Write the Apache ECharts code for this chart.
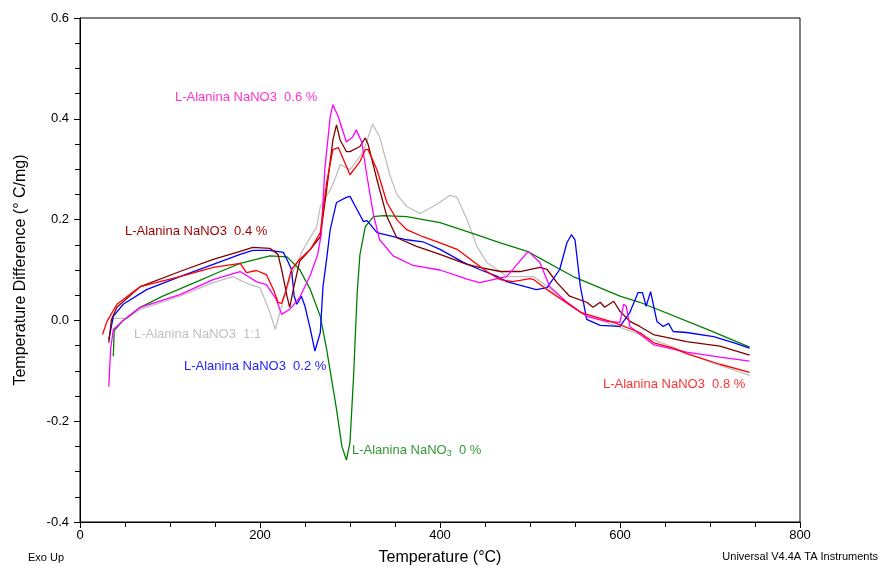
<!DOCTYPE html>
<html>
<head>
<meta charset="utf-8">
<script src="https://cdn.jsdelivr.net/npm/echarts@6/dist/echarts.min.js"></script>
<style>
html,body{margin:0;padding:0;background:#fff;}
#c{width:881px;height:571px;}
</style>
</head>
<body>
<div id="c"></div>
<script>
// ---- Data (Temperature °C, Temperature Difference °C/mg) ----
var xTicks = [0, 200, 400, 600, 800];
var yTicks = [-0.4, -0.2, 0.0, 0.2, 0.4, 0.6];

var green0 = [[37,-0.071],[38,-0.02],[48,0.0],[67,0.026],[92,0.048],[130,0.077],[156,0.097],[178,0.113],[211,0.128],[230,0.126],[244,0.101],[256,0.061],[267,0.008],[274,-0.057],[285,-0.176],[291,-0.25],[296,-0.277],[300,-0.242],[304,-0.11],[308,0.055],[311,0.13],[317,0.186],[326,0.206],[337,0.208],[363,0.206],[400,0.194],[437,0.172],[467,0.154],[497,0.137],[548,0.087],[600,0.048],[622,0.036],[697,-0.018],[744,-0.053]];

var blue02 = [[32,-0.038],[37,0.008],[48,0.032],[74,0.061],[111,0.087],[148,0.111],[178,0.131],[192,0.139],[211,0.139],[226,0.135],[231,0.117],[235,0.101],[238,0.048],[241,0.032],[246,0.048],[250,0.028],[256,-0.018],[261,-0.061],[267,-0.024],[270,0.067],[274,0.121],[278,0.18],[285,0.234],[296,0.244],[300,0.246],[306,0.226],[315,0.196],[319,0.198],[330,0.174],[363,0.16],[381,0.156],[400,0.141],[426,0.115],[444,0.101],[463,0.088],[474,0.077],[507,0.061],[519,0.065],[533,0.101],[541,0.154],[546,0.170],[550,0.160],[556,0.067],[563,0.002],[578,-0.010],[600,-0.012],[611,0.016],[620,0.055],[625,0.055],[629,0.028],[634,0.057],[641,-0.002],[648,-0.012],[654,-0.006],[659,-0.022],[674,-0.024],[704,-0.032],[726,-0.044],[744,-0.055]];

var darkred04 = [[32,-0.044],[35,0.002],[41,0.026],[67,0.067],[111,0.097],[148,0.121],[178,0.137],[192,0.145],[211,0.143],[220,0.131],[224,0.101],[230,0.048],[233,0.026],[237,0.061],[244,0.117],[256,0.141],[267,0.166],[274,0.259],[281,0.358],[285,0.388],[289,0.358],[296,0.335],[300,0.335],[311,0.345],[317,0.362],[320,0.35],[330,0.279],[341,0.206],[352,0.164],[374,0.147],[400,0.131],[430,0.111],[444,0.105],[467,0.097],[489,0.097],[511,0.105],[519,0.101],[530,0.075],[544,0.048],[563,0.036],[570,0.026],[578,0.036],[583,0.026],[593,0.038],[600,0.018],[611,-0.002],[622,-0.012],[637,-0.028],[674,-0.042],[711,-0.051],[744,-0.069]];

var magenta06 = [[32,-0.131],[34,-0.057],[37,-0.018],[48,0.0],[67,0.026],[111,0.051],[148,0.081],[178,0.097],[185,0.089],[196,0.077],[207,0.071],[218,0.042],[224,0.012],[233,0.022],[244,0.045],[256,0.09],[264,0.13],[268,0.17],[272,0.3],[278,0.404],[281,0.428],[287,0.404],[296,0.354],[303,0.364],[307,0.378],[313,0.354],[319,0.285],[326,0.21],[333,0.16],[348,0.128],[370,0.109],[400,0.1],[430,0.082],[444,0.075],[474,0.087],[498,0.137],[511,0.115],[522,0.067],[541,0.036],[563,0.008],[585,-0.002],[600,-0.004],[604,0.032],[607,0.028],[611,-0.012],[637,-0.048],[674,-0.063],[711,-0.073],[744,-0.081]];

var red08 = [[25,-0.028],[30,-0.002],[41,0.032],[67,0.067],[111,0.087],[148,0.105],[178,0.113],[185,0.095],[196,0.099],[207,0.091],[215,0.061],[220,0.036],[224,0.034],[228,0.055],[235,0.101],[244,0.121],[256,0.141],[267,0.174],[274,0.273],[281,0.339],[287,0.343],[300,0.289],[311,0.315],[317,0.339],[320,0.339],[330,0.299],[341,0.234],[352,0.2],[363,0.18],[381,0.166],[400,0.154],[419,0.141],[437,0.117],[452,0.097],[467,0.081],[481,0.077],[500,0.083],[504,0.081],[519,0.061],[556,0.016],[593,-0.004],[622,-0.024],[637,-0.044],[659,-0.055],[674,-0.066],[711,-0.087],[744,-0.103]];

var gray11 = [[35,-0.008],[37,0.004],[52,0.004],[67,0.022],[111,0.048],[148,0.075],[170,0.087],[181,0.077],[189,0.071],[200,0.065],[211,0.016],[217,-0.018],[222,0.016],[233,0.081],[248,0.141],[263,0.186],[267,0.226],[278,0.259],[283,0.279],[289,0.309],[300,0.299],[315,0.335],[325,0.39],[333,0.364],[344,0.29],[352,0.25],[363,0.226],[378,0.212],[396,0.23],[411,0.248],[419,0.244],[430,0.2],[441,0.147],[452,0.115],[467,0.097],[474,0.087],[504,0.087],[519,0.067],[556,0.016],[585,-0.004],[622,-0.028],[659,-0.053],[697,-0.081],[744,-0.109]];

var seriesNames = ['L-Alanina NaNO3 1:1','L-Alanina NaNO3 0 %','L-Alanina NaNO3 0.2 %','L-Alanina NaNO3 0.4 %','L-Alanina NaNO3 0.6 %','L-Alanina NaNO3 0.8 %'];
var seriesData = [gray11, green0, blue02, darkred04, magenta06, red08];
var seriesColors = ['#c0c0c0','#008000','#0000ff','#800000','#ff00ff','#ff0000'];

var FONT = 'Liberation Sans, Arial, sans-serif';
var chart = echarts.init(document.getElementById('c'), null, {renderer:'canvas'});

var series = seriesData.map(function(d, i){
  return {
    name: seriesNames[i], type:'line', data:d, showSymbol:false, smooth:false,
    lineStyle:{color:seriesColors[i], width:1.3}, itemStyle:{color:seriesColors[i]},
    silent:true
  };
});

function lbl(text, x, y, color){
  return {type:'text', left:x, top:y, silent:true, style:{text:text, fill:color, font:'13px ' + FONT}};
}

var option = {
  animation:false,
  backgroundColor:'#fff',
  grid:{left:80, right:81, top:18, bottom:48, show:true, borderColor:'#000', borderWidth:1, backgroundColor:'transparent'},
  xAxis:{
    type:'value', min:0, max:800, interval:200,
    name:'Temperature (°C)', nameLocation:'middle', nameGap:28,
    nameTextStyle:{fontFamily:FONT, fontSize:16, color:'#000'},
    axisLine:{show:true, onZero:false, lineStyle:{color:'#000', width:1}},
    axisTick:{show:true, length:6, lineStyle:{color:'#000'}},
    minorTick:{show:true, splitNumber:4, length:5, lineStyle:{color:'#000'}},
    splitLine:{show:false},
    axisLabel:{color:'#000', fontFamily:FONT, fontSize:13, margin:7}
  },
  yAxis:{
    type:'value', min:-0.4, max:0.6, interval:0.2,
    name:'Temperature Difference (° C/mg)', nameLocation:'middle', nameGap:51,
    nameTextStyle:{fontFamily:FONT, fontSize:16, color:'#000'},
    axisLine:{show:true, onZero:false, lineStyle:{color:'#000', width:1}},
    axisTick:{show:true, length:6, lineStyle:{color:'#000'}},
    minorTick:{show:true, splitNumber:4, length:5, lineStyle:{color:'#000'}},
    splitLine:{show:false},
    axisLabel:{color:'#000', fontFamily:FONT, fontSize:13, margin:11,
      formatter:function(v){ return v.toFixed(1); }}
  },
  series: series,
  graphic:[
    lbl('L-Alanina NaNO3  0.6 %', 175, 91, '#ff33cc'),
    lbl('L-Alanina NaNO3  0.4 %', 125, 225, '#990000'),
    lbl('L-Alanina NaNO3  1:1', 134, 328, '#c0c0c0'),
    lbl('L-Alanina NaNO3  0.2 %', 184, 360, '#2222ff'),
    lbl('L-Alanina NaNO3  0.8 %', 603, 378, '#ff3333'),
    {type:'text', left:352, top:444, silent:true, style:{
      text:'{a|L-Alanina NaNO}{s|3}{a|  0 %}',
      rich:{a:{fontFamily:FONT, fontSize:13, fill:'#339933', color:'#339933'},
            s:{fontFamily:FONT, fontSize:9, fill:'#339933', color:'#339933', padding:[7,0,0,0]}}
    }},
    {type:'text', left:28, top:552, silent:true, style:{text:'Exo Up', fill:'#000', font:'11px ' + FONT}},
    {type:'text', right:3, top:551, silent:true, style:{text:'Universal V4.4A TA Instruments', fill:'#000', font:'11px ' + FONT}}
  ]
};
chart.setOption(option);
</script>
</body>
</html>
